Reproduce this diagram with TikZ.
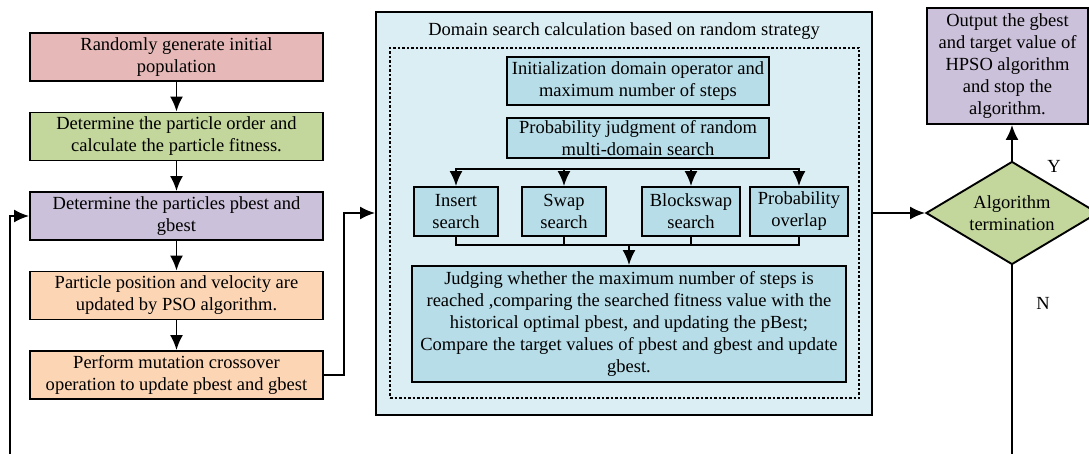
\documentclass[tikz,border=0pt]{standalone}
\usepackage{fontspec}
\setmainfont{Liberation Serif}
\usetikzlibrary{arrows.meta,positioning,shapes.geometric,calc}
\definecolor{redfill}{HTML}{E6B9B8}
\definecolor{greenfill}{HTML}{C3D69B}
\definecolor{purplefill}{HTML}{CCC1DA}
\definecolor{orangefill}{HTML}{FCD5B5}
\definecolor{searchbg}{HTML}{DBEEF4}
\definecolor{searchfill}{HTML}{B7DDE8}

\begin{document}
\begin{tikzpicture}[x=1pt,y=-1pt,node distance=29.6pt,font=\fontsize{18.5}{22}\selectfont]
    \tikzset{
      flowbox/.style={rectangle,draw=black,line width=1.9pt,inner sep=0pt,minimum width=293pt,minimum height=48pt,align=center},
      searchbox/.style={rectangle,draw=black,line width=1.9pt,fill=searchfill,inner sep=0pt,minimum height=49pt,align=center},
      decision/.style={diamond,draw=black,line width=1.9pt,fill=greenfill,inner sep=0pt,aspect=1.67,minimum width=172pt,minimum height=103pt,align=center},
      arrow/.style={->,>={Latex[length=15pt,width=13pt]},line width=1.9pt},
      wire/.style={line width=1.9pt}
    }
    \useasboundingbox (0,0) rectangle (1089,454);
    \clip (0,0) rectangle (1089,454);

    \node[flowbox,fill=redfill](init) at (176.5,57){Randomly generate initial\\population};
    \node[flowbox,fill=greenfill,below=of init](fitness){Determine the particle order and\\calculate the particle fitness.};
    \node[flowbox,fill=purplefill,below=of fitness](best){Determine the particles pbest and\\gbest};
    \node[flowbox,fill=orangefill,below=of best](update){Particle position and velocity are\\updated by PSO algorithm.};
    \node[flowbox,fill=orangefill,below=of update](mutate){Perform mutation crossover\\operation to update pbest and gbest};

    \node[rectangle,draw=black,line width=1.9pt,fill=searchbg,minimum width=496pt,minimum height=403pt,inner sep=0pt](search) at (624,213.5){};
    \node(title) at (624,31){Domain search calculation based on random strategy};
    \node[rectangle,draw=black,line width=1.4pt,dash pattern=on 2.5pt off 2pt,minimum width=469pt,minimum height=350pt,inner sep=0pt](container) at (624.5,223){};
    \node[searchbox,minimum width=262pt,minimum height=48pt](initop) at (638,81){Initialization domain operator and\\maximum number of steps};
    \node[searchbox,minimum width=262pt,minimum height=40pt](prob) at (638,138){Probability judgment of random\\multi-domain search};
    \node[searchbox,minimum width=84pt](insert) at (456,211.5){Insert\\search};
    \node[searchbox,minimum width=84pt](swap) at (564,211.5){Swap\\search};
    \node[searchbox,minimum width=98pt](blockswap) at (691,211.5){Blockswap\\search};
    \node[searchbox,minimum width=98pt](overlap) at (799,211.5){Probability\\overlap};
    \node[searchbox,minimum width=434pt,minimum height=116pt](judge) at (629,324){Judging whether the maximum number of steps is\\reached ,comparing the searched fitness value with the\\historical optimal pbest, and updating the pBest;\\Compare the target values of pbest and gbest and update\\gbest.};

    \node[decision](stop) at (1012,213){Algorithm\\termination};
    \node[rectangle,draw=black,line width=1.9pt,fill=purplefill,minimum width=161pt,minimum height=116pt,inner sep=0pt,align=center](output) at (1007.5,66){Output the gbest\\and target value of\\HPSO algorithm\\and stop the\\algorithm.};
    \node(yes) at (1054,166){Y};
    \node(no) at (1043,303){N};

    \draw[arrow](init) -- (fitness);
    \draw[arrow](fitness) -- (best);
    \draw[arrow](best) -- (update);
    \draw[arrow](update) -- (mutate);
    \draw[arrow](mutate.east) -- ++(20,0) |- (search.west |- stop.west);

    \coordinate(split) at ($(prob.south)+(0,10)$);
    \foreach \n in {insert,swap,blockswap,overlap}
      \draw[arrow](split) -| (\n.north);
    \coordinate(join) at ($(judge.north)+(0,-20)$);
    \foreach \n in {insert,swap,blockswap,overlap}
      \draw[wire](\n.south) |- (join);
    \draw[arrow](join) -- (judge.north);

    \draw[arrow](search.east |- stop.west) -- (stop.west);
    \draw[arrow](stop.north) -- (stop.north |- output.south);
    \coordinate(back) at (10,480);
    \draw[arrow](stop.south) |- (back) |- (best.west);
\end{tikzpicture}
\end{document}
